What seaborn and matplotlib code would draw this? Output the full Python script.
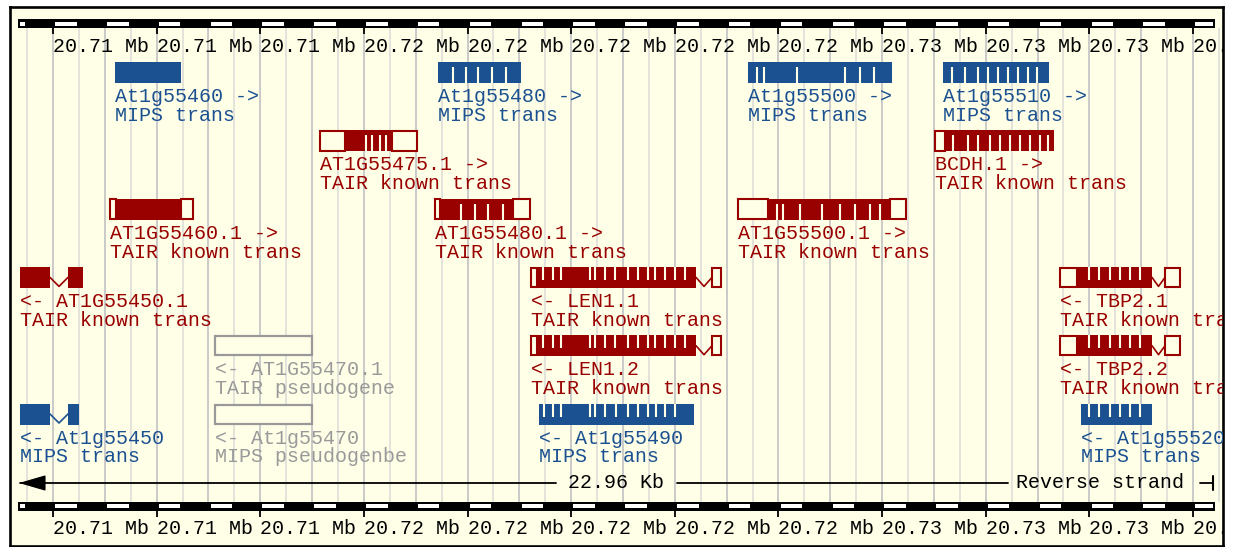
import numpy as np
import matplotlib
matplotlib.use("Agg")
import matplotlib.pyplot as plt
import seaborn as sns
from matplotlib.patches import Rectangle, Polygon

# ---------------- data (positions in kb offset from 20.70 Mb) ----------------
tick_kb = [10, 12, 14, 16, 18, 20, 22, 24, 26, 28, 30, 32]
tick_labels = ["20.71 Mb", "20.71 Mb", "20.71 Mb", "20.72 Mb", "20.72 Mb", "20.72 Mb",
               "20.72 Mb", "20.72 Mb", "20.73 Mb", "20.73 Mb", "20.73 Mb", "20.73 Mb"]
ruler_start, ruler_end = 9.325, 32.42
span_label = "22.96 Kb"
strand_label = "Reverse strand"

gene_names = ["At1g55460", "At1g55480", "At1g55500", "At1g55510",
              "AT1G55475.1", "BCDH.1",
              "AT1G55460.1", "AT1G55480.1", "AT1G55500.1",
              "AT1G55450.1", "LEN1.1", "TBP2.1",
              "AT1G55470.1", "LEN1.2", "TBP2.2",
              "At1g55450", "At1g55470", "At1g55490", "At1g55520"]
gene_sources = ["MIPS trans"] * 4 + ["TAIR known trans"] * 8 + \
               ["TAIR pseudogene", "TAIR known trans", "TAIR known trans",
                "MIPS trans", "MIPS pseudogenbe", "MIPS trans", "MIPS trans"]
gene_kinds = ["mips"] * 4 + ["tair"] * 8 + ["pseudo", "tair", "tair",
                                            "mips", "pseudo", "mips", "mips"]
gene_rows = [0, 0, 0, 0, 1, 1, 2, 2, 2, 3, 3, 3, 4, 4, 4, 5, 5, 5, 5]
gene_strands = [1, 1, 1, 1, 1, 1, 1, 1, 1, -1, -1, -1, -1, -1, -1, -1, -1, -1, -1]
gene_starts = [11.196, 17.430, 23.412, 27.175,
               15.152, 27.021,
               11.100, 17.372, 23.219,
               9.363, 19.224, 29.433,
               13.126, 19.224, 29.433,
               9.363, 13.126, 19.378, 29.838]
gene_ends = [12.470, 19.031, 26.191, 29.221,
             17.024, 29.317,
             12.702, 19.205, 26.461,
             10.579, 22.891, 31.749,
             14.998, 22.891, 31.749,
             10.502, 14.998, 22.370, 31.208]
len_utrs = [(19.224, 19.340), (22.717, 22.891)]
tbp_utrs = [(29.433, 29.761), (31.459, 31.749)]
gene_utrs = [[], [], [], [],
             [(15.152, 15.635), (16.542, 17.024)], [(27.021, 27.214)],
             [(11.100, 11.216), (12.470, 12.702)], [(17.372, 17.469), (18.877, 19.205)],
             [(23.219, 23.798), (26.152, 26.461)],
             [], len_utrs, tbp_utrs,
             [], len_utrs, tbp_utrs,
             [], [], [], []]
gene_introns = [[], [], [], [], [], [], [], [], [],
                [(9.942, 10.289)], [(22.408, 22.717)], [(31.208, 31.459)],
                [], [(22.408, 22.717)], [(31.208, 31.459)],
                [(9.942, 10.289)], [], [], []]
len_slits = [19.456, 19.649, 19.803, 20.363, 20.459, 20.652, 20.845, 21.096,
             21.289, 21.482, 21.617, 21.810, 22.003, 22.196]
tbp_slits = [29.992, 30.185, 30.398, 30.591, 30.784, 30.977]
gene_slits = [[],
              [17.719, 17.970, 18.201, 18.472, 18.742],
              [23.585, 23.720, 24.357, 25.284, 25.573, 25.843],
              [27.349, 27.599, 27.850, 28.043, 28.236, 28.429, 28.622, 28.815, 28.989],
              [16.040, 16.156, 16.310, 16.426],
              [27.368, 27.657, 27.850, 28.082, 28.275, 28.468, 28.661, 28.854, 29.047, 29.201],
              [],
              [17.873, 18.144, 18.394, 18.684],
              [23.972, 24.087, 24.415, 24.840, 25.187, 25.477, 25.766, 25.959],
              [], len_slits, tbp_slits,
              [], len_slits, tbp_slits,
              [], [],
              [19.475, 19.649, 19.803, 20.363, 20.459, 20.652, 20.864, 21.096,
               21.289, 21.482, 21.636, 21.810, 22.003],
              tbp_slits]

# ---------------- style ----------------
sns.set_theme(style="white")
plt.rcParams["font.family"] = ["Liberation Mono", "DejaVu Sans Mono"]

BG = "#ffffe8"
COLORS = {"mips": "#1b5190", "tair": "#990000", "pseudo": "#999999"}
FS = 14.4

W, H = 1234, 547
PX_PER_KB = 51.82


def kb(px):
    return 10 + (px - 53) / PX_PER_KB


fig = plt.figure(figsize=(W / 100, H / 100), dpi=100)
fig.patch.set_facecolor("white")
L, R, T, B = 9.5, 1222.5, 6.5, 545.5
ax = fig.add_axes([L / W, (H - B) / H, (R - L) / W, (B - T) / H])
ax.set_facecolor(BG)
ax.set_xlim(kb(L), kb(R))
ax.set_ylim(B, T)
ax.set_xticks([])
ax.set_yticks([])
for s in ax.spines.values():
    s.set_color("black")
    s.set_linewidth(1.9)

# grid lines
for g in np.arange(9.5, 32.51, 0.5):
    col = "#c6c6c6" if abs(g - round(g)) < 1e-6 else "#e0e0da"
    ax.plot([g, g], [28, 502], color=col, lw=1.3, zorder=1, solid_capstyle="butt")


def ruler(y_top, y_label, tick_down):
    ax.add_patch(Rectangle((ruler_start, y_top), ruler_end - ruler_start, 9,
                           facecolor="black", edgecolor="none", zorder=3))
    cells = [(ruler_start, 9.5)] + [(t, t + 0.5) for t in range(10, 33)]
    inset = 2.2 / PX_PER_KB
    for s, e in cells:
        s2 = max(s, ruler_start) + inset
        e2 = min(e, ruler_end) - inset
        if e2 > s2:
            ax.add_patch(Rectangle((s2, y_top + 2.5), e2 - s2, 4,
                                   facecolor="white", edgecolor="none", zorder=4))
    for t, lab in zip(tick_kb, tick_labels):
        ax.plot([t, t], [y_top + 9, y_top + 9 + tick_down], color="black", lw=1.3,
                zorder=4, solid_capstyle="butt")
        ax.text(t, y_label, lab, color="black", fontsize=FS, ha="left", va="center",
                clip_on=True, zorder=5)


ruler(19, 47, 6)
ruler(501.5, 529, 6)

# genes
row_top = 62.0
row_step = 68.3
box_h = 21
for i, name in enumerate(gene_names):
    col = COLORS[gene_kinds[i]]
    y0 = row_top + gene_rows[i] * row_step
    s, e = gene_starts[i], gene_ends[i]
    if gene_kinds[i] == "pseudo":
        ax.add_patch(Rectangle((s, y0 + 1), e - s, box_h - 2, facecolor=BG,
                               edgecolor=col, lw=1.6, zorder=6))
    else:
        # exons: split on introns
        segs = []
        cur = s
        for a, b in gene_introns[i]:
            segs.append((cur, a))
            cur = b
        segs.append((cur, e))
        for a, b in segs:
            ax.add_patch(Rectangle((a, y0), b - a, box_h, facecolor=col,
                                   edgecolor="none", zorder=6))
        for a, b in gene_utrs[i]:
            ax.add_patch(Rectangle((a, y0 + 0.8), b - a, box_h - 1.6, facecolor=BG,
                                   edgecolor=col, lw=1.5, zorder=7))
        for x in gene_slits[i]:
            if gene_strands[i] > 0:
                ax.plot([x, x], [y0 + 5, y0 + box_h], color=BG, lw=1.5, zorder=8,
                        solid_capstyle="butt")
            else:
                ax.plot([x, x], [y0, y0 + box_h * 0.62], color=BG, lw=1.5, zorder=8,
                        solid_capstyle="butt")
        for a, b in gene_introns[i]:
            m = (a + b) / 2
            ax.plot([a, m, b], [y0 + 10.5, y0 + box_h - 1.5, y0 + 10.5], color=col,
                    lw=1.2, zorder=8)
    lab1 = f"{name} ->" if gene_strands[i] > 0 else f"<- {name}"
    ax.text(s, y0 + box_h + 13.5, lab1, color=col, fontsize=FS, ha="left",
            va="center", clip_on=True, zorder=9)
    ax.text(s, y0 + box_h + 32.5, gene_sources[i], color=col, fontsize=FS, ha="left",
            va="center", clip_on=True, zorder=9)

# strand / length line
ys = 483
ax.add_patch(Polygon([(kb(21), ys), (kb(45), ys - 7), (kb(45), ys + 7)],
                     closed=True, facecolor="black", edgecolor="black", lw=0.8, zorder=6))
ax.plot([kb(20), kb(556)], [ys, ys], color="black", lw=1.3, zorder=6)
ax.plot([kb(677), kb(1008)], [ys, ys], color="black", lw=1.3, zorder=6)
ax.text(kb(616), ys, span_label, color="black", fontsize=FS, ha="center", va="center",
        zorder=7)
ax.text(kb(1016), ys, strand_label, color="black", fontsize=FS, ha="left",
        va="center", zorder=7)
ax.plot([kb(1200), kb(1213)], [ys, ys], color="black", lw=1.3, zorder=6)
ax.plot([kb(1213), kb(1213)], [ys - 7, ys + 7], color="black", lw=1.5, zorder=6)

fig.savefig("out.png", dpi=100, facecolor="white")
